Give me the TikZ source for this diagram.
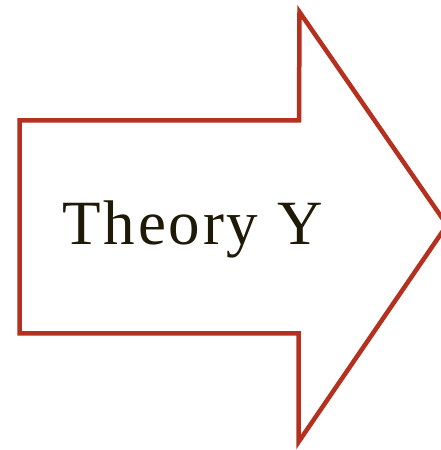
\documentclass[tikz,border=0pt]{standalone}
\usepackage{fontspec}
\setmainfont{Liberation Serif}
\newfontfamily\labelfont[LetterSpace=4.5]{Liberation Serif}
\definecolor{arrowred}{HTML}{B5301F}
\definecolor{textdark}{HTML}{1F1A08}
\begin{document}
\begin{tikzpicture}[x=1pt,y=1pt,
  bigarrow/.style={draw=arrowred, line width=4.5pt, line join=miter, fill=white},
  label/.style={text=textdark, font=\labelfont\fontsize{63}{70}\selectfont, inner sep=0pt}]
\useasboundingbox (0,0) rectangle (441,450);
\begin{scope}
\clip (0,0) rectangle (441,450);
\draw[bigarrow] (19.5,329.5) -- (299,329.5) -- (299.5,438) -- (447,225) -- (298.5,8) -- (298.5,116.5) -- (19.5,116.5) -- cycle;
\end{scope}
\node[label, anchor=base] (t) at (192.5,205) {Theory Y};
\end{tikzpicture}
\end{document}
